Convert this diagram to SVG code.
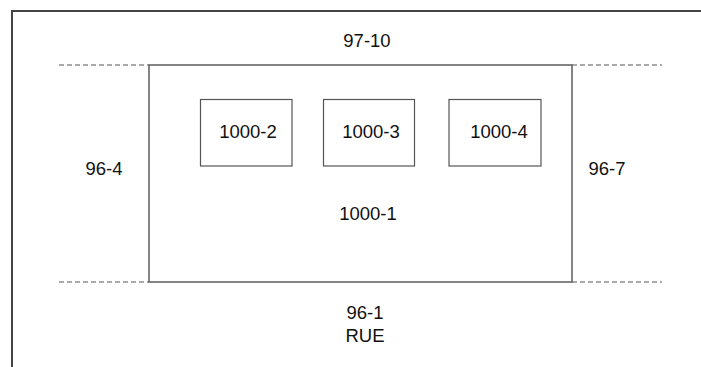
<svg xmlns="http://www.w3.org/2000/svg" width="701" height="367" viewBox="0 0 701 367">
<style>
text{font-family:"Liberation Sans",Arial,Helvetica,sans-serif;font-size:18.5px;fill:#111;text-anchor:middle}
.frame{fill:none;stroke:#444;stroke-width:2}
.box{fill:#fff;stroke:#555;stroke-width:1.2}
.main{fill:#fff;stroke:#666;stroke-width:1.6}
.dash{stroke:#555;stroke-width:1.2;stroke-dasharray:5,3;fill:none}
</style>
<rect width="701" height="367" fill="#fff"/>
<path class="frame" d="M12,367 V11 H701"/>
<g id="connectors">
<line class="dash" x1="59" y1="65" x2="149" y2="65"/>
<line class="dash" x1="572" y1="65" x2="662" y2="65"/>
<line class="dash" x1="59" y1="282" x2="149" y2="282"/>
<line class="dash" x1="572" y1="282" x2="662" y2="282"/>
</g>
<g id="n1000-1">
<rect class="main" x="149" y="65" width="423" height="217"/>
<text x="368" y="220">1000-1</text>
</g>
<g id="n1000-2">
<rect class="box" x="200.5" y="99.5" width="91.5" height="66.5"/>
<text x="248" y="138">1000-2</text>
</g>
<g id="n1000-3">
<rect class="box" x="323.5" y="99.5" width="91" height="66.5"/>
<text x="371" y="138">1000-3</text>
</g>
<g id="n1000-4">
<rect class="box" x="449" y="99.5" width="92" height="66.5"/>
<text x="499" y="138">1000-4</text>
</g>
<g id="n97-10"><text x="367" y="47">97-10</text></g>
<g id="n96-4"><text x="104" y="175">96-4</text></g>
<g id="n96-7"><text x="607" y="175">96-7</text></g>
<g id="n96-1"><text x="365" y="319">96-1</text><text x="365" y="342">RUE</text></g>
</svg>
